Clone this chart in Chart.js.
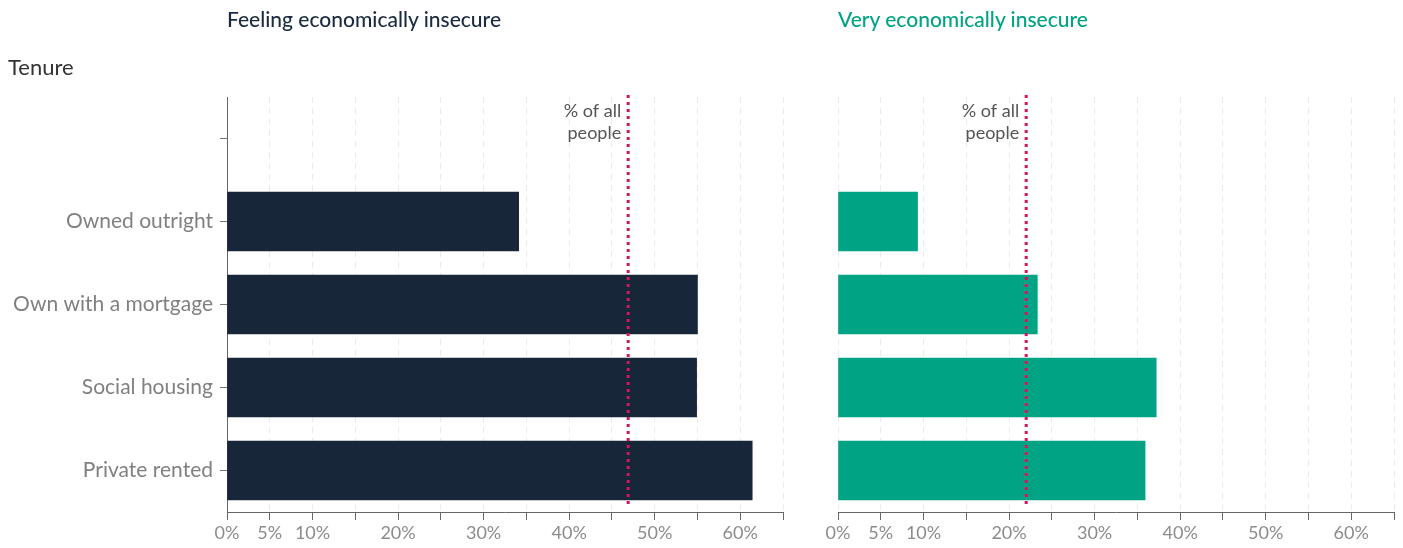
<!DOCTYPE html>
<html lang="en">
<head>
  <meta charset="UTF-8">
  <title>Economic insecurity by tenure</title>
  <script src="https://cdn.jsdelivr.net/npm/chart.js"></script>
  <style>
    body {
      margin: 0;
      padding: 0;
      background: #fff;
      font-family: Lato, sans-serif;
    }
    .page {
      position: relative;
      width: 1403px;
      height: 548px;
      overflow: hidden;
    }
    .panel {
      position: absolute;
      top: 0;
      height: 548px;
    }
    .title {
      position: absolute;
      top: 6px;
      font-size: 21px;
      font-weight: 500;
      white-space: nowrap;
    }
    .tenure {
      position: absolute;
      left: 8px;
      top: 53px;
      font-size: 22px;
      color: #333;
    }
  </style>
</head>
<body>
  <div class="page">
    <div class="panel" style="left:0;width:800px"><canvas id="chart_feeling"></canvas></div>
    <div class="panel" style="left:800px;width:603px"><canvas id="chart_very"></canvas></div>
    <div class="title" style="left:227px;color:#1a2a3f">Feeling economically insecure</div>
    <div class="title" style="left:838px;color:#00a383">Very economically insecure</div>
    <div class="tenure">Tenure</div>
  </div>

  <script>
    // first row is an empty spacer category
    const tenures = ['', 'Owned outright', 'Own with a mortgage', 'Social housing', 'Private rented'];
    const feelingInsecure = [null, 34.1, 55.0, 54.9, 61.4];
    const veryInsecure = [null, 9.3, 23.3, 37.2, 35.9];
    const allPeople = [46.9, 22.0];
    const tickValues = [0, 5, 10, 15, 20, 25, 30, 35, 40, 45, 50, 55, 60, 65];
    const tickLabels = ['0%', '5%', '10%', '', '20%', '', '30%', '', '40%', '', '50%', '', '60%', ''];

    const fontFamily = 'Lato, sans-serif';

    // dotted "% of all people" marker
    const refLine = {
      id: 'refLine',
      afterDatasetsDraw(chart, args, opts) {
        const { ctx, chartArea } = chart;
        const x = chart.scales.x.getPixelForValue(opts.value);
        ctx.save();
        ctx.strokeStyle = '#d0175f';
        ctx.lineWidth = 3;
        ctx.setLineDash([3, 4]);
        ctx.beginPath();
        ctx.moveTo(x, chartArea.top - 2);
        ctx.lineTo(x, chartArea.bottom - 5);
        ctx.stroke();
        ctx.setLineDash([]);
        ctx.font = '18px ' + fontFamily;
        ctx.fillStyle = '#555';
        ctx.textAlign = 'right';
        ctx.textBaseline = 'middle';
        ctx.fillText('% of all', x - 7, 111);
        ctx.fillText('people', x - 7, 133);
        ctx.restore();
      }
    };

    function makeChart(id, values, color, refValue, yWidth, rightPad, showY) {
      return new Chart(document.getElementById(id), {
        type: 'bar',
        data: {
          labels: tenures,
          datasets: [{
            data: values,
            backgroundColor: color,
            barThickness: 59
          }]
        },
        options: {
          indexAxis: 'y',
          responsive: true,
          maintainAspectRatio: false,
          animation: false,
          layout: {
            padding: { top: 97, right: rightPad, bottom: 0, left: 0 }
          },
          scales: {
            x: {
              min: 0,
              max: 65,
              afterBuildTicks(scale) {
                scale.ticks = tickValues.map(v => ({ value: v }));
              },
              afterFit(scale) {
                scale.height = 36;
              },
              border: { display: true, color: '#666', width: 1, dash: [6, 5] },
              grid: {
                color: '#ebebeb',
                tickColor: '#666',
                tickLength: 8,
                tickBorderDash: [],
                drawTicks: true
              },
              ticks: {
                autoSkip: false,
                maxRotation: 0,
                padding: 2,
                color: '#8c8c8c',
                font: { family: fontFamily, size: 18 },
                callback: (v) => tickLabels[tickValues.indexOf(v)]
              }
            },
            y: {
              afterFit(scale) {
                scale.width = yWidth;
              },
              border: { display: showY, color: '#666', width: 1 },
              grid: {
                offset: false,
                drawOnChartArea: false,
                drawTicks: showY,
                tickLength: 7,
                tickColor: '#777'
              },
              ticks: {
                display: showY,
                padding: 7,
                color: '#808080',
                font: { family: fontFamily, size: 21 }
              }
            }
          },
          plugins: {
            legend: { display: false },
            tooltip: { enabled: false },
            refLine: { value: refValue }
          }
        },
        plugins: [refLine]
      });
    }

    makeChart('chart_feeling', feelingInsecure, '#18263a', allPeople[0], 227, 17, true);
    makeChart('chart_very', veryInsecure, '#00a383', allPeople[1], 38, 9, false);
  </script>
</body>
</html>
